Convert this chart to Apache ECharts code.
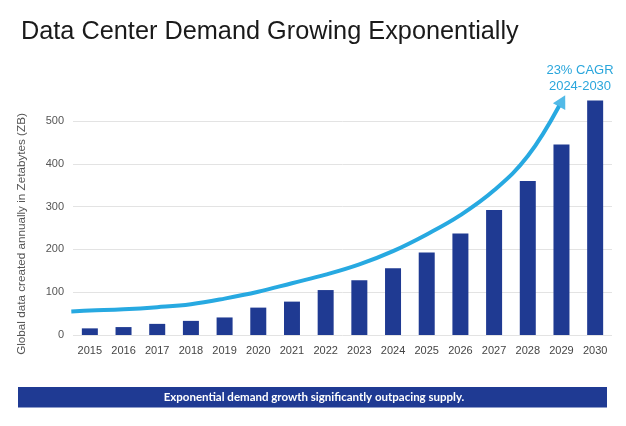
<!DOCTYPE html>
<html><head><meta charset="utf-8">
<script src="https://cdn.jsdelivr.net/npm/echarts@6/dist/echarts.min.js"></script>
<style>html,body{margin:0;padding:0;background:#fff}#c{width:626px;height:426px}</style>
</head><body><div id="c"></div>
<script>
// ---- data ----
const years = ['2015','2016','2017','2018','2019','2020','2021','2022','2023','2024','2025','2026','2027','2028','2029','2030'];
const dataZB = [15.5, 18.5, 26, 33, 41, 64, 78, 105, 128, 156, 193, 237, 292, 360, 445, 548];
// trend (CAGR) curve, x in category-index units
const trendX = [-0.55, 0, 1, 2, 3, 4, 5, 6, 7, 8, 9, 10, 11, 12, 13, 13.93];
const trendY = [55, 57, 60, 65, 72, 85, 101, 121, 141, 165, 196, 235, 280, 338, 418, 535];
const arrowPoint = [14.02, 547];
const yMin = 0, yMax = 500, yStep = 100;
const titleText = 'Data Center Demand Growing Exponentially';
const yName = 'Global data created annually in Zetabytes (ZB)';
const cagrLines = ['23% CAGR', '2024-2030'];
const bannerText = 'Exponential demand growth significantly outpacing supply.';

const chart = echarts.init(document.getElementById('c'), null, {renderer: 'canvas'});
const trendData = trendX.map((x, i) => [x, trendY[i]]);
const font = "'Liberation Sans', Arial, sans-serif";

chart.setOption({
  backgroundColor: '#ffffff',
  animation: false,
  title: {
    text: titleText, left: 16, top: 15,
    textStyle: {fontFamily: font, fontSize: 25.3, fontWeight: 'normal', color: '#1a1a1a'}
  },
  grid: {left: 73, right: 14, top: 121, bottom: 426 - 335},
  xAxis: [{
    type: 'category', data: years, boundaryGap: true,
    axisLine: {show: false}, axisTick: {show: false},
    axisLabel: {color: '#454545', fontSize: 11, fontFamily: font, margin: 10}
  }, {
    type: 'value', min: -0.5, max: 15.5, show: false
  }],
  yAxis: {
    type: 'value', min: yMin, max: yMax, interval: yStep,
    axisLine: {show: false}, axisTick: {show: false},
    axisLabel: {color: '#555', fontSize: 11, fontFamily: font, margin: 9},
    splitLine: {lineStyle: {color: '#e3e3e3', width: 1}}
  },
  series: [{
    type: 'bar', data: dataZB, barWidth: 16, clip: false,
    itemStyle: {color: '#1f3a92'}
  }, {
    type: 'line', xAxisIndex: 1, data: trendData, smooth: 0.4, clip: false,
    symbol: 'none', lineStyle: {color: '#27a9e1', width: 4}, z: 5
  }, {
    type: 'scatter', xAxisIndex: 1, data: [arrowPoint], clip: false,
    symbol: 'triangle', symbolSize: [14, 13], symbolRotate: -28,
    itemStyle: {color: '#27a9e1'}, z: 6
  }],
  graphic: [{
    type: 'text', x: 22, y: 234, rotation: Math.PI / 2,
    style: {text: yName, font: "11.7px 'Liberation Sans', Arial, sans-serif", fill: '#555', align: 'center', verticalAlign: 'middle'}
  }, {
    type: 'text', x: 580, y: 70,
    style: {text: cagrLines[0], font: "13px 'Liberation Sans', Arial, sans-serif", fill: '#2aa6dc', align: 'center', verticalAlign: 'middle'}
  }, {
    type: 'text', x: 580, y: 86,
    style: {text: cagrLines[1], font: "13px 'Liberation Sans', Arial, sans-serif", fill: '#2aa6dc', align: 'center', verticalAlign: 'middle'}
  }, {
    type: 'rect', shape: {x: 18, y: 387, width: 589, height: 20.5},
    style: {fill: '#1f3a93'}
  }, {
    type: 'text', x: 314, y: 397.5,
    style: {text: bannerText, font: "bold 11.5px Lato, 'Open Sans', sans-serif", fill: '#ffffff', align: 'center', verticalAlign: 'middle'}
  }]
});
</script></body></html>
